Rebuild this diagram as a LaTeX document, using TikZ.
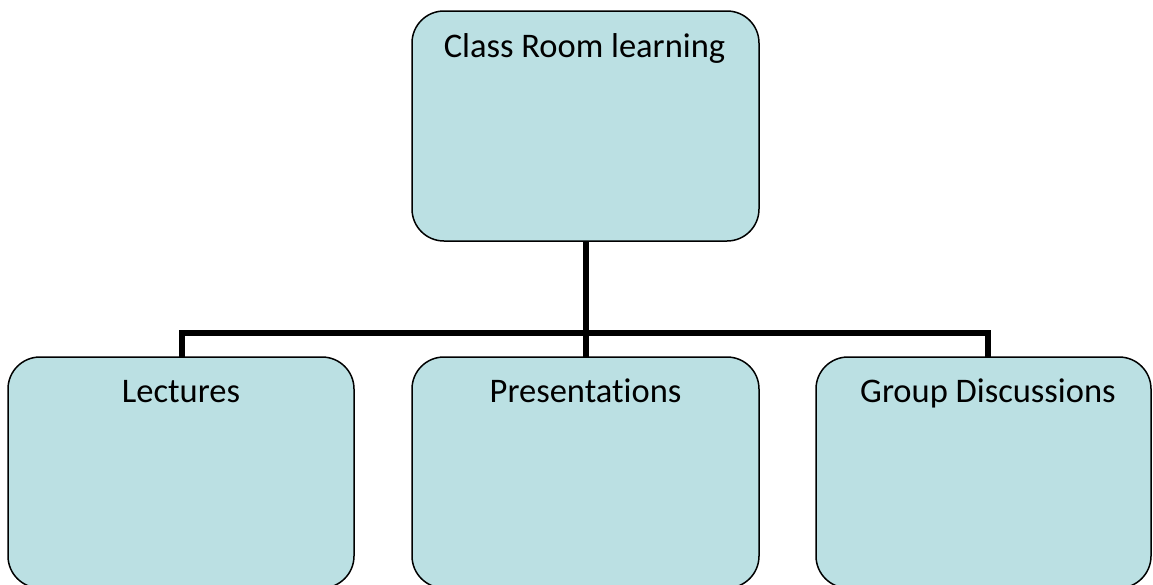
\documentclass[tikz,border=0pt]{standalone}
\usepackage{fontspec}
\setmainfont[Ligatures=NoCommon]{Carlito}
\definecolor{boxfill}{RGB}{187,224,227}
\begin{document}
\begin{tikzpicture}[x=1pt,y=-1pt,
  box/.style={draw=black, line width=1.5pt, fill=boxfill, rounded corners=32pt, rectangle},
  lbl/.style={anchor=base, inner sep=0pt, font=\fontsize{34.5}{40}\selectfont},
  conn/.style={draw=black, line width=6pt}]
\useasboundingbox (0,0) rectangle (1153,584);
% connectors first (behind boxes)
\coordinate (trunktop) at (585.5,241);
\coordinate (barmid) at (585.5,333);
\coordinate (barleft) at (182,333);
\coordinate (barright) at (988,333);
\coordinate (dropl) at (182,357);
\coordinate (dropm) at (585.5,357);
\coordinate (dropr) at (988,357);
\draw[conn] (trunktop) -- (barmid);
\draw[conn, line cap=rect] (barleft) -- (barright);
\draw[conn] (barleft) -- (dropl);
\draw[conn] (barmid) -- (dropm);
\draw[conn] (barright) -- (dropr);
% boxes
\path[box] (412,11) rectangle (759,241) node[pos=0.5, draw=none, fill=none] (top) {};
\path[box] (8,357) rectangle (354,588) node[pos=0.5, draw=none, fill=none] (lec) {};
\path[box] (412,357) rectangle (759,588) node[pos=0.5, draw=none, fill=none] (pre) {};
\path[box] (816,357) rectangle (1151,588) node[pos=0.5, draw=none, fill=none] (grp) {};
% labels
\node[lbl] (toptxt) at (584.5,57) {Class Room learning};
\node[lbl] (lectxt) at (181,402) {Lectures};
\node[lbl] (pretxt) at (585.5,402) {Presentations};
\node[lbl] (grptxt) at (988,402) {Group Discussions};
\end{tikzpicture}
\end{document}
